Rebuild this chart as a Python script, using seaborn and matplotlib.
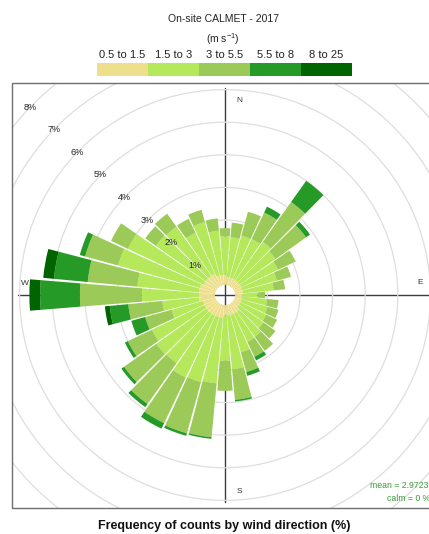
import numpy as np
import matplotlib
matplotlib.use("Agg")
import matplotlib.pyplot as plt
from matplotlib.colors import ListedColormap
from matplotlib.patches import Rectangle
from matplotlib.lines import Line2D
import seaborn as sns

# ---------------- data ----------------
directions = [10, 20, 30, 40, 50, 60, 70, 80, 90, 100, 110, 120, 130, 140, 150, 160, 170, 180,
              190, 200, 210, 220, 230, 240, 250, 260, 270, 280, 290, 300, 310, 320, 330, 340, 350, 360]
speed_labels = ["0.5 to 1.5", "1.5 to 3", "3 to 5.5", "5.5 to 8", "8 to 25"]
speed_colors = ["#EEDF8C", "#B6E85C", "#9CCA58", "#269A26", "#006400"]

freq_05_15 = [0.25, 0.25, 0.25, 0.25, 0.25, 0.25, 0.25, 0.25, 0.22, 0.22, 0.22, 0.22, 0.22, 0.33, 0.33, 0.33, 0.33, 0.33,
              0.40, 0.40, 0.40, 0.40, 0.40, 0.40, 0.40, 0.50, 0.50, 0.50, 0.50, 0.42, 0.42, 0.42, 0.42, 0.32, 0.32, 0.32]
freq_15_3 = [1.23, 1.34, 1.35, 1.45, 1.35, 1.25, 1.10, 0.95, 0.48, 0.78, 0.83, 0.88, 0.93, 0.94, 0.96, 1.19, 1.66, 1.39,
             2.02, 2.07, 2.10, 1.86, 1.88, 1.78, 1.00, 1.13, 1.75, 1.90, 2.60, 2.58, 1.88, 1.85, 1.39, 1.70, 1.36, 1.18]
freq_3_55 = [0.45, 0.76, 0.90, 1.50, 1.15, 0.60, 0.45, 0.35, 0.23, 0.35, 0.35, 0.37, 0.45, 0.53, 0.51, 0.63, 0.94, 0.92,
             1.66, 1.63, 1.55, 1.54, 1.22, 0.82, 0.84, 1.05, 1.90, 1.53, 1.05, 0.57, 0.40, 0.49, 0.48, 0.39, 0.38, 0.25]
freq_55_8 = [0.00, 0.00, 0.20, 0.80, 0.15, 0.00, 0.00, 0.00, 0.00, 0.00, 0.00, 0.00, 0.00, 0.00, 0.12, 0.12, 0.05, 0.00,
             0.05, 0.08, 0.19, 0.12, 0.10, 0.10, 0.44, 0.57, 1.22, 1.04, 0.17, 0.00, 0.00, 0.00, 0.00, 0.00, 0.00, 0.00]
freq_8_25 = [0.00, 0.00, 0.00, 0.00, 0.00, 0.00, 0.00, 0.00, 0.00, 0.00, 0.00, 0.00, 0.00, 0.00, 0.00, 0.00, 0.00, 0.00,
             0.00, 0.00, 0.00, 0.00, 0.00, 0.00, 0.00, 0.15, 0.33, 0.33, 0.00, 0.00, 0.00, 0.00, 0.00, 0.00, 0.00, 0.00]
ring_values = [1, 2, 3, 4, 5, 6, 7, 8]
compass_labels = ["N", "E", "S", "W"]
title_top = "On-site CALMET - 2017"
units = r"(m s$^{\mathrm{-1}}$)"
title_bottom = "Frequency of counts by wind direction (%)"
mean_text = "mean = 2.9723"
calm_text = "calm = 0 %"

# ---------------- style ----------------
sns.set_theme(style="white")
plt.rcParams["font.family"] = ["Liberation Sans", "DejaVu Sans"]
plt.rcParams["mathtext.fontset"] = "custom"
plt.rcParams["mathtext.rm"] = "Liberation Sans"
plt.rcParams["mathtext.it"] = "Liberation Sans:italic"

W, H = 429, 534
fig = plt.figure(figsize=(W / 100, H / 100), dpi=100)
fig.patch.set_facecolor("white")

def fx(x):
    return x / W

def fy(y):
    return 1 - y / H

# geometry (pixels)
cx, cy = 225.0, 295.0
px_per_pct = 32.6
gap = 0.3
rmax = 9.0
R = px_per_pct * (rmax + gap)
axis_len = px_per_pct * (6.05 + gap)

# axis cross (drawn beneath the rose)
fig.add_artist(Line2D([fx(cx), fx(cx)], [fy(cy - axis_len), fy(cy + axis_len)],
                      transform=fig.transFigure, color="#3c3c3c", lw=1.0, zorder=-1))
fig.add_artist(Line2D([fx(cx - axis_len), fx(cx + axis_len)], [fy(cy), fy(cy)],
                      transform=fig.transFigure, color="#3c3c3c", lw=1.0, zorder=-1))

ax = fig.add_axes([fx(cx - R), fy(cy + R), 2 * R / W, 2 * R / H], projection="polar")
ax.set_theta_zero_location("N")
ax.set_theta_direction(-1)
ax.set_ylim(0, rmax)
ax.set_rorigin(-gap)
ax.grid(False)
ax.set_xticks([])
ax.set_yticks([])
ax.set_axis_off()

panel = Rectangle((fx(12.3), fy(507.7)), 425.4 / W, 425.0 / H, transform=fig.transFigure,
                  fill=False, edgecolor="#6e6e6e", linewidth=1.0, zorder=10)
fig.add_artist(panel)
clip_rect = Rectangle((fx(12.3), fy(507.7)), 425.4 / W, 425.0 / H, transform=fig.transFigure)

# rings
th = np.linspace(0, 2 * np.pi, 400)
for rv in ring_values:
    ln, = ax.plot(th, np.full_like(th, rv), color="#dedede", lw=0.9, zorder=1)
    ln.set_clip_path(clip_rect)

# stacked bars
theta = np.deg2rad(directions)
width = np.deg2rad(10) * 0.92
series = [freq_05_15, freq_15_3, freq_3_55, freq_55_8, freq_8_25]
bottom = np.zeros(len(directions))
for vals, col in zip(series, speed_colors):
    vals = np.asarray(vals)
    ax.bar(theta, vals, width=width, bottom=bottom, color=col, edgecolor="none",
           linewidth=0, align="center", zorder=3)
    bottom = bottom + vals

# ring labels
for rv in ring_values:
    ax.text(np.deg2rad(314), rv, f"{rv}%", ha="center", va="center", fontsize=6.5,
            color="#222222", zorder=5)

# compass labels
compass_pos = [(4.1, 5.68), (86.2, 5.69), (175.9, 5.73), (273.4, 5.85)]
for lab, (a, r) in zip(compass_labels, compass_pos):
    ax.text(np.deg2rad(a), r, lab, ha="center", va="center", fontsize=6, color="#333333", zorder=5)

# mean / calm
fig.text(fx(370), fy(485), mean_text, ha="left", va="center", fontsize=6.3, color="#3a9a3a")
fig.text(fx(430), fy(498.5), calm_text, ha="right", va="center", fontsize=6.3, color="#3a9a3a")

# legend key (seaborn heatmap)
kax = fig.add_axes([fx(96.7), fy(76.0), 255.0 / W, 12.7 / H])
sns.heatmap(np.arange(len(speed_labels))[None, :], cmap=ListedColormap(speed_colors),
            vmin=-0.5, vmax=len(speed_labels) - 0.5, cbar=False, ax=kax,
            xticklabels=speed_labels, yticklabels=False, linewidths=0)
kax.xaxis.tick_top()
kax.tick_params(axis="x", length=0, pad=2.5, labelsize=8, rotation=0, colors="#222222")
for s in kax.spines.values():
    s.set_visible(False)

fig.text(fx(223), fy(19), title_top, ha="center", va="center", fontsize=7.5, color="#222222")
fig.text(fx(223), fy(39), units, ha="center", va="center", fontsize=7.5, color="#222222")
fig.text(fx(224), fy(526), title_bottom, ha="center", va="center", fontsize=9,
         fontweight="bold", color="#111111")

fig.savefig("out.png", dpi=100)
